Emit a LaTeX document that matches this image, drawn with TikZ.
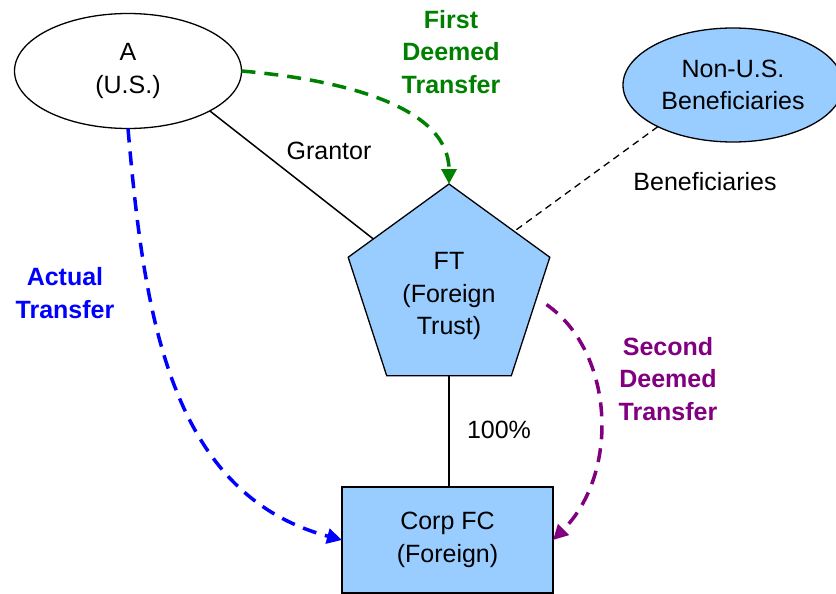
\documentclass[tikz,border=0pt]{standalone}
\usepackage{fontspec}
\setmainfont{Liberation Sans}
\usetikzlibrary{shapes.geometric,arrows.meta}
\definecolor{dgreen}{RGB}{0,128,0}
\definecolor{dblue}{RGB}{0,0,255}
\definecolor{dpurple}{RGB}{128,0,128}
\definecolor{lblue}{RGB}{153,204,255}
\tikzset{
  every node/.style={font=\fontsize{25}{32.5}\selectfont, align=center, inner sep=0pt, outer sep=0pt},
  shapebox/.style={draw=black, line width=1.3pt},
  bluefill/.style={fill=lblue},
  link/.style={draw=black, line width=1.5pt},
  dlink/.style={draw=black, line width=1.3pt, dash pattern=on 7pt off 5pt},
  xfer/.style={line width=3.5pt, dash pattern=on 14pt off 9pt,
    -{Triangle[length=15pt,width=15pt]}},
  xlabel/.style={font=\fontsize{25}{32.5}\selectfont\bfseries},
}
\begin{document}
\begin{tikzpicture}[x=1pt,y=1pt]
\useasboundingbox (0,0) rectangle (836,-594);
\clip (0,0) rectangle (836,-594);
\fill[white] (0,0) rectangle (836,-594);

% nodes
\node[shapebox, ellipse, fill=white, minimum width=227pt, minimum height=115pt] (A) at (128,-71) {A\\(U.S.)};
\node[shapebox, bluefill, ellipse, minimum width=220pt, minimum height=114pt] (NB) at (733,-85) {Non-U.S.\\Beneficiaries};
\node[shapebox, bluefill, regular polygon, regular polygon sides=5, minimum size=212pt] (FT) at (449,-290) {};
\node (FTt) at (449,-296) {FT\\(Foreign\\Trust)};
\node[shapebox, bluefill, rectangle, minimum width=211pt, minimum height=106pt] (FC) at (447.5,-540) {Corp FC\\(Foreign)};

% plain links
\draw[link] (A.-26) -- (FT.146);
\draw[dlink] (NB.209) -- (FT.42);
\draw[link] (FT.south) -- (FT.south |- FC.north);

% link labels
\node (grantor) at (329,-151) {Grantor};
\node (benef) at (705,-182) {Beneficiaries};
\node (pct) at (499,-430) {100\%};

% transfers
\draw[xfer, dgreen] (A.east) .. controls +(-5:110) and +(90:75) .. (FT.corner 1);
\draw[xfer, dblue] (A.south) to[out=-85, in=165] (FC.west);
\draw[xfer, dpurple, shorten <=12pt] (FT.-5) to[out=-35, in=45] (FC.east);

% transfer labels
\node[xlabel, text=dgreen] (first) at (451,-52) {First\\Deemed\\Transfer};
\node[xlabel, text=dblue] (actual) at (65,-293) {Actual\\Transfer};
\node[xlabel, text=dpurple] (second) at (668,-379) {Second\\Deemed\\Transfer};
\end{tikzpicture}
\end{document}
